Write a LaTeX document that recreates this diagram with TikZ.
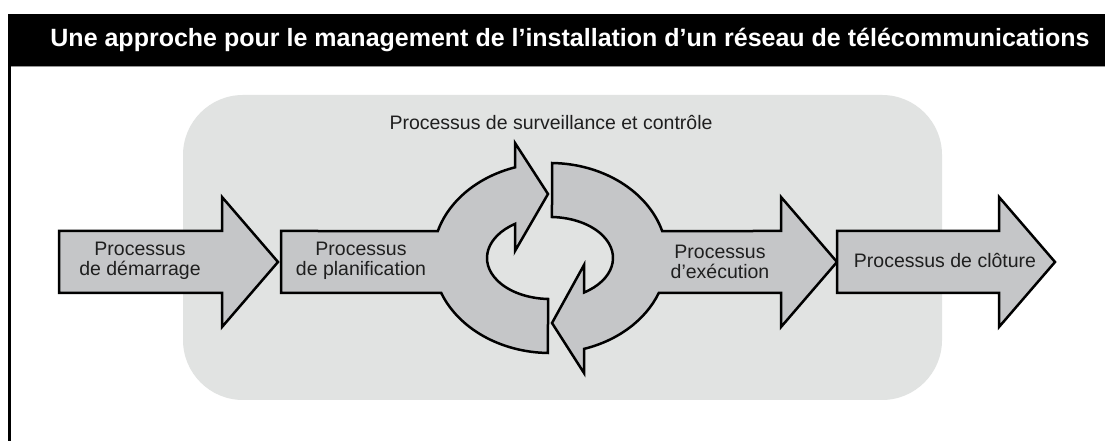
\documentclass[tikz,border=0pt]{standalone}
\usepackage{fontspec}
\setmainfont{Liberation Sans}
\definecolor{bggray}{RGB}{225,227,226}
\definecolor{arrowgray}{RGB}{197,198,200}
\definecolor{rulegray}{RGB}{150,150,150}
\begin{document}
\begin{tikzpicture}[x=1pt,y=1pt,
  shapestyle/.style={fill=arrowgray,draw=black,line width=2.5pt,line join=miter,miter limit=10},
  lbl/.style={font=\fontsize{19.5}{20.5}\selectfont,align=center,text=black!88,inner sep=0pt}]
\useasboundingbox (0,0) rectangle (1105,441);
\fill[white] (0,0) rectangle (1105,441);
% title band
\fill[black] (8,375) rectangle (1105,427);
\draw[rulegray,line width=1pt] (8,374.5) -- (1105,374.5);
\draw[black,line width=3pt] (9.5,375) -- (9.5,0);
\node[font=\bfseries\fontsize{25}{28}\selectfont,text=white,inner sep=0pt] (title) at (570,401)
  {Une approche pour le management de l’installation d’un réseau de télécommunications};
% background
\fill[bggray,rounded corners=60pt] (183,41) rectangle (942,346);
% start arrow
\draw[shapestyle] (59,210) -- (222,210) -- (222,244) -- (278,179) -- (222,114) -- (222,148) -- (59,148) -- cycle;
% planning arrow with ring
\draw[shapestyle] (281,210) -- ({550+117*cos(163.5)},{183+95*sin(163.5)})
  arc[start angle=163.5,end angle=107.4,x radius=117,y radius=95]
  -- (515,298) -- (548,247) -- (515,190)
  -- ({550+63*cos(123.7)},{183+41*sin(123.7)})
  arc[start angle=123.7,end angle=268.2,x radius=63,y radius=41]
  -- ({550+117*cos(269)},{183+95*sin(269)})
  arc[start angle=269,end angle=201.6,x radius=117,y radius=95]
  -- (281,148) -- cycle;
% execution arrow with ring
\draw[shapestyle] ({550+117*cos(89)},{183+95*sin(89)})
  arc[start angle=89,end angle=16.5,x radius=117,y radius=95]
  -- (781,210) -- (781,244) -- (837,179) -- (781,114) -- (781,148)
  -- ({550+117*cos(-21.6)},{183+95*sin(-21.6)})
  arc[start angle=-21.6,end angle=-73.1,x radius=117,y radius=95]
  -- (584,68) -- (552,118) -- (584,176)
  -- ({550+63*cos(-57.3)},{183+41*sin(-57.3)})
  arc[start angle=-57.3,end angle=88.2,x radius=63,y radius=41]
  -- cycle;
% closing arrow
\draw[shapestyle] (837,210) -- (999,210) -- (999,244) -- (1055,179) -- (999,114) -- (999,148) -- (837,148) -- cycle;
% labels
\node[lbl] (start) at (140,180) {Processus\\de démarrage};
\node[lbl] (plan) at (361,180) {Processus\\de planification};
\node[lbl] (exec) at (720,179) {Processus\\d’exécution};
\node[lbl] (close) at (945,180) {Processus de clôture};
\node[lbl] (monitor) at (551,318) {Processus de surveillance et contrôle};
\end{tikzpicture}
\end{document}
